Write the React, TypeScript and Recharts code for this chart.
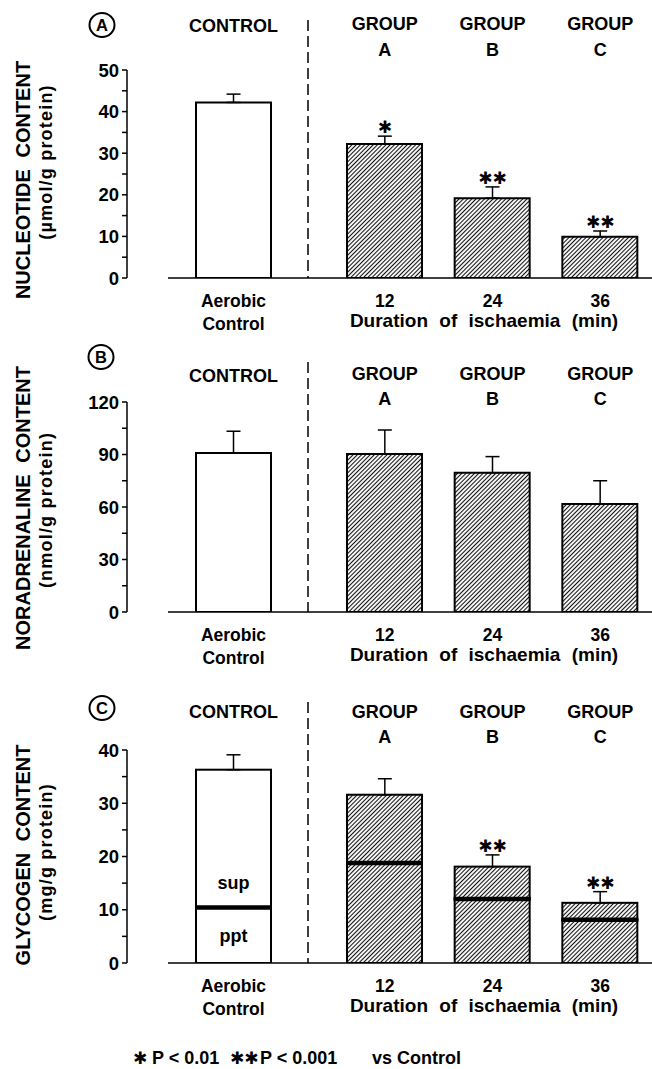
import React from 'react';
import { ComposedChart, Bar, Line, XAxis, YAxis, ErrorBar, LabelList, Cell } from 'recharts';

const FONT = '"Liberation Sans", Arial, Helvetica, sans-serif';
const STAR_FONT = '"DejaVu Sans", sans-serif';

// categories and headers
const categories = ['Aerobic\nControl', '12', '24', '36'];
const headers = ['CONTROL', 'GROUP\nA', 'GROUP\nB', 'GROUP\nC'];

// A: nucleotide content (umol/g protein)
const nucleotideMean = [42.2, 32.2, 19.2, 9.9];
const nucleotideSem = [2.0, 1.9, 2.7, 1.4];
const nucleotideSig = ['', '✱', '✱✱', '✱✱'];
const nucleotideTicks = [0, 5, 10, 15, 20, 25, 30, 35, 40, 45, 50];
const nucleotideTickLabels = [0, 10, 20, 30, 40, 50];

// B: noradrenaline content (nmol/g protein)
const noradrenalineMean = [90.8, 90.3, 79.6, 61.7];
const noradrenalineSem = [12.5, 13.7, 9.2, 13.3];
const noradrenalineSig = ['', '', '', ''];
const noradrenalineTicks = [0, 15, 30, 45, 60, 75, 90, 105, 120];
const noradrenalineTickLabels = [0, 30, 60, 90, 120];

// C: glycogen content (mg/g protein), ppt + sup fractions
const glycogenPpt = [10.4, 18.8, 12.0, 8.1];
const glycogenSup = [25.9, 12.8, 6.1, 3.2];
const glycogenSem = [2.8, 3.0, 2.2, 2.1];
const glycogenSig = ['', '', '✱✱', '✱✱'];
const glycogenPptLabel = ['ppt', '', '', ''];
const glycogenSupLabel = ['sup', '', '', ''];
const glycogenTicks = [0, 5, 10, 15, 20, 25, 30, 35, 40];
const glycogenTickLabels = [0, 10, 20, 30, 40];

type Row = {
  cat: string;
  header: string;
  value: number;
  ppt: number;
  sup: number;
  capTop: number;
  err: number[];
  sig: string;
  pptLabel: string;
  supLabel: string;
};

function buildRows(mean: number[], sem: number[], sig: string[], ppt?: number[], sup?: number[]): Row[] {
  return categories.map((cat, i) => {
    const total = ppt && sup ? ppt[i] + sup[i] : mean[i];
    return {
      cat,
      header: headers[i],
      value: total,
      ppt: ppt ? ppt[i] : 0,
      sup: sup ? sup[i] : 0,
      capTop: total + sem[i],
      err: [sem[i], 0],
      sig: sig[i],
      pptLabel: ppt ? glycogenPptLabel[i] : '',
      supLabel: sup ? glycogenSupLabel[i] : '',
    };
  });
}

const AXIS_X = 127;
const CONTROL_LEFT = 168;
const DIVIDER_X = 308;
const PAGE_W = 652;

type Spec = {
  key: string;
  top: number;
  plotTop: number;
  baseline: number;
  bottom: number;
  headerDy: number[];
  title: string[];
  titleShift: number[];
  dashTop: number;
  circle: number[];
};

const specA: Spec = {
  key: 'A', top: 0, plotTop: 70, baseline: 278, bottom: 340,
  headerDy: [-36, -38, -12], title: ['NUCLEOTIDE CONTENT', '(µmol/g protein)'],
  titleShift: [6, -12], dashTop: 20, circle: [102, 25],
};
const specB: Spec = {
  key: 'B', top: 345, plotTop: 402, baseline: 612, bottom: 675,
  headerDy: [-18, -20, 5], title: ['NORADRENALINE CONTENT', '(nmol/g protein)'],
  titleShift: [1, 3], dashTop: 362, circle: [101, 357],
};
const specC: Spec = {
  key: 'C', top: 685, plotTop: 750, baseline: 963, bottom: 1025,
  headerDy: [-30, -30, -5], title: ['GLYCOGEN CONTENT', '(mg/g protein)'],
  titleShift: [-1.5, -4.5], dashTop: 702, circle: [102, 708],
};

const HeaderTick = (props: any) => {
  const { x, y, payload, dys } = props;
  const lines = String(payload.value).split('\n');
  return (
    <text textAnchor="middle" fontFamily={FONT} fontWeight={700} fontSize={18} fill="#000">
      {lines.map((l, i) => (
        <tspan key={i} x={x} y={y + dys[lines.length === 1 ? 0 : i + 1]}>
          {l}
        </tspan>
      ))}
    </text>
  );
};

const BottomTick = (props: any) => {
  const { x, y, payload } = props;
  const lines = String(payload.value).split('\n');
  return (
    <text textAnchor="middle" fontFamily={FONT} fontWeight={700} fontSize={17.5} fill="#000">
      {lines.map((l, i) => (
        <tspan key={i} x={x} y={y + 27 + i * 23}>
          {l}
        </tspan>
      ))}
    </text>
  );
};

const DurationLabel = (props: any) => {
  const { viewBox } = props;
  return (
    <text
      x={viewBox.x + viewBox.width / 2 + 3}
      y={viewBox.y + 49}
      textAnchor="middle"
      fontFamily={FONT}
      fontWeight={700}
      fontSize={19}
      wordSpacing={6}
      fill="#000"
    >
      Duration of ischaemia (min)
    </text>
  );
};

const YTitle = (props: any) => {
  const { viewBox, lines, shift } = props;
  const cy = viewBox.y + viewBox.height / 2;
  const c1 = cy + shift[0];
  const c2 = cy + shift[1];
  return (
    <g>
      <text x={30} y={c1} transform={`rotate(-90, 30, ${c1})`} textAnchor="middle" fontFamily={FONT}
        fontWeight={700} fontSize={20} wordSpacing={6} fill="#000">
        {lines[0]}
      </text>
      <text x={52} y={c2} transform={`rotate(-90, 52, ${c2})`} textAnchor="middle" fontFamily={FONT}
        fontWeight={700} fontSize={18} letterSpacing={1.2} fill="#000">
        {lines[1]}
      </text>
    </g>
  );
};

const SupShape = (props: any) => {
  const { x, y, width, height, fill } = props;
  return (
    <g>
      <rect x={x} y={y} width={width} height={height} fill={fill} stroke="#000" strokeWidth={2} />
      <line x1={x - 1} x2={x + width + 1} y1={y + height} y2={y + height} stroke="#000" strokeWidth={4.5} />
    </g>
  );
};

const NoDot = () => null;

function Panel({ spec, rows, ticks, tickLabels, yMax, stacked }: {
  spec: Spec; rows: Row[]; ticks: number[]; tickLabels: number[]; yMax: number; stacked?: boolean;
}) {
  const h = spec.bottom - spec.top;
  const topH = spec.plotTop - spec.top;
  const bottomH = spec.bottom - spec.baseline;
  const hatchId = `hatch-${spec.key}`;

  const seriesChart = (data: Row[], left: number, width: number, padding: { left: number; right: number }, hatched: boolean) => {
    const fill = hatched ? `url(#${hatchId})` : '#fff';
    return (
      <div style={{ position: 'absolute', left, top: spec.top }}>
        <ComposedChart width={width} height={h} data={data} margin={{ top: 0, right: 0, bottom: 0, left: 0 }} barSize={75}>
          <defs>
            <pattern id={hatchId} patternUnits="userSpaceOnUse" width={3} height={3} patternTransform="rotate(45)">
              <line x1={1.5} y1={0} x2={1.5} y2={3} stroke="#111" strokeWidth={1.1} />
            </pattern>
          </defs>
          <XAxis
            dataKey="cat"
            interval={0}
            height={bottomH}
            padding={padding}
            tickSize={0}
            tickLine={false}
            axisLine={{ stroke: '#000', strokeWidth: 1.5 }}
            tick={<BottomTick />}
            label={hatched ? <DurationLabel /> : undefined}
          />
          <XAxis
            xAxisId="top"
            orientation="top"
            dataKey="header"
            interval={0}
            height={topH}
            padding={padding}
            tickSize={0}
            tickLine={false}
            axisLine={false}
            tick={<HeaderTick dys={spec.headerDy} />}
          />
          <YAxis hide type="number" domain={[0, yMax]} allowDataOverflow />
          {stacked ? (
            <Bar dataKey="ppt" stackId="g" stroke="#000" strokeWidth={2} isAnimationActive={false}>
              {data.map((_, i) => <Cell key={i} fill={fill} />)}
              <LabelList dataKey="pptLabel" position="center" fill="#000" fontSize={18} fontWeight={700} fontFamily={FONT} />
            </Bar>
          ) : (
            <Bar dataKey="value" stroke="#000" strokeWidth={2} isAnimationActive={false}>
              {data.map((_, i) => <Cell key={i} fill={fill} />)}
            </Bar>
          )}
          {stacked && (
            <Bar dataKey="sup" stackId="g" shape={SupShape} isAnimationActive={false}>
              {data.map((_, i) => <Cell key={i} fill={fill} />)}
              <LabelList dataKey="supLabel" position="insideBottom" offset={19} fill="#000" fontSize={18} fontWeight={700} fontFamily={FONT} />
            </Bar>
          )}
          <Line dataKey="capTop" stroke="none" dot={NoDot} activeDot={false} isAnimationActive={false}>
            <ErrorBar dataKey="err" direction="y" width={7} stroke="#000" strokeWidth={1.5} />
            <LabelList dataKey="sig" position="top" offset={3} fill="#000" fontSize={17} fontWeight={700} fontFamily={STAR_FONT} />
          </Line>
        </ComposedChart>
      </div>
    );
  };

  return (
    <>
      <div style={{ position: 'absolute', left: 0, top: spec.top }}>
        <ComposedChart width={AXIS_X + 6} height={h} data={rows} margin={{ top: topH, right: 6, bottom: bottomH, left: 0 }}>
          <XAxis dataKey="cat" hide />
          <YAxis
            type="number"
            domain={[0, yMax]}
            allowDataOverflow
            ticks={ticks}
            interval={0}
            width={AXIS_X}
            tickSize={5}
            tickMargin={3}
            tickFormatter={(v: number) => (tickLabels.includes(v) ? String(v) : '')}
            axisLine={{ stroke: '#000', strokeWidth: 1.5 }}
            tickLine={{ stroke: '#000', strokeWidth: 1.5 }}
            tick={{ fill: '#000', fontSize: 18.5, fontWeight: 700, fontFamily: FONT }}
            label={<YTitle lines={spec.title} shift={spec.titleShift} />}
          />
        </ComposedChart>
      </div>
      {seriesChart(rows.slice(0, 1), CONTROL_LEFT, DIVIDER_X - CONTROL_LEFT, { left: 0, right: 9 }, false)}
      {seriesChart(rows.slice(1), DIVIDER_X, PAGE_W - DIVIDER_X + 2, { left: 23, right: 0 }, true)}
    </>
  );
}

export default function App() {
  const nucleotideRows = buildRows(nucleotideMean, nucleotideSem, nucleotideSig);
  const noradrenalineRows = buildRows(noradrenalineMean, noradrenalineSem, noradrenalineSig);
  const glycogenRows = buildRows([], glycogenSem, glycogenSig, glycogenPpt, glycogenSup);
  const specs = [specA, specB, specC];

  return (
    <div style={{ position: 'absolute', left: 0, top: 0, width: PAGE_W, height: 1069, background: '#fff', overflow: 'hidden' }}>
      <Panel spec={specA} rows={nucleotideRows} ticks={nucleotideTicks} tickLabels={nucleotideTickLabels} yMax={50} />
      <Panel spec={specB} rows={noradrenalineRows} ticks={noradrenalineTicks} tickLabels={noradrenalineTickLabels} yMax={120} />
      <Panel spec={specC} rows={glycogenRows} ticks={glycogenTicks} tickLabels={glycogenTickLabels} yMax={40} stacked />
      <svg width={PAGE_W} height={1069} style={{ position: 'absolute', left: 0, top: 0, pointerEvents: 'none' }}>
        {specs.map((s) => (
          <g key={s.key}>
            <line x1={DIVIDER_X} x2={DIVIDER_X} y1={s.dashTop} y2={s.baseline} stroke="#000" strokeWidth={1.5} strokeDasharray="11 5" />
            <ellipse cx={s.circle[0]} cy={s.circle[1]} rx={12.5} ry={12} fill="none" stroke="#000" strokeWidth={2} />
            <text x={s.circle[0]} y={s.circle[1] + 6} textAnchor="middle" fontFamily={FONT} fontWeight={700} fontSize={16.5} fill="#000">
              {s.key}
            </text>
          </g>
        ))}
        <text y={1064} fontFamily={FONT} fontWeight={700} fontSize={18} fill="#000">
          <tspan x={133} fontFamily={STAR_FONT} fontSize={17}>✱</tspan>
          <tspan x={152}>P &lt; 0.01</tspan>
          <tspan x={230} fontFamily={STAR_FONT} fontSize={17}>✱✱</tspan>
          <tspan x={260}>P &lt; 0.001</tspan>
          <tspan x={372}>vs Control</tspan>
        </text>
      </svg>
    </div>
  );
}
